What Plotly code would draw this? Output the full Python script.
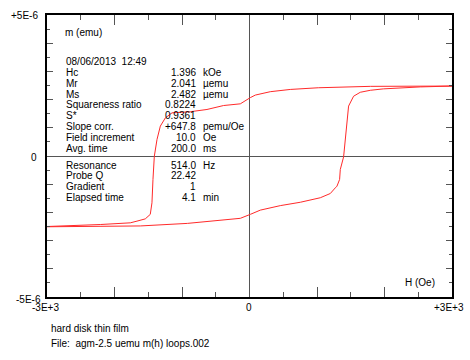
import plotly.graph_objects as go

# Descending branch (H from +3000 to -3000), m in emu (x1e-6)
h_desc = [3000, 2500, 1790, 1019, 604, 308, 86, 12, -136, -384, -630, -877, -1148,
          -1247, -1321, -1370, -1410, -1430, -1445, -1470, -1544, -1667, -1766, -2210, -3000]
m_desc = [2.48, 2.47, 2.47, 2.42, 2.36, 2.28, 2.16, 2.07, 1.85, 1.79, 1.65, 1.57, 1.53,
          1.35, 1.06, 0.59, -0.01, -0.83, -1.66, -2.07, -2.23, -2.31, -2.37, -2.43, -2.50]

# Ascending branch (H from -3000 to +3000)
h_asc = [-3000, -2210, -1618, -921, -240, -136, 12, 160, 456, 753, 1049, 1197, 1271, 1296,
         1335, 1345, 1394, 1434, 1468, 1542, 1641, 1790, 1982, 2530, 3000]
m_asc = [-2.51, -2.50, -2.48, -2.39, -2.24, -2.21, -2.07, -1.92, -1.76, -1.64, -1.48, -1.33,
         -1.13, -1.07, -0.83, -0.48, -0.03, 0.94, 1.77, 2.12, 2.26, 2.33, 2.38, 2.45, 2.48]

info_top_labels = ["Hc", "Mr", "Ms", "Squareness ratio", "S*", "Slope corr.",
                   "Field increment", "Avg. time"]
info_top_values = ["1.396", "2.041", "2.482", "0.8224", "0.9361", "+647.8", "10.0", "200.0"]
info_top_units = ["kOe", "µemu", "µemu", "", "", "pemu/Oe", "Oe", "ms"]

info_bot_labels = ["Resonance", "Probe Q", "Gradient", "Elapsed time"]
info_bot_values = ["514.0", "22.42", "1", "4.1"]
info_bot_units = ["Hz", "", "", "min"]

date_text = "08/06/2013  12:49"
x_tick_text = ["-3E+3", "0", "+3E+3"]
y_tick_text = ["+5E-6", "0", "-5E-6"]

W, H = 470, 360
L, R, T, B = 47, 18, 15, 63
PW, PH = W - L - R, H - T - B


def px(xp):
    return (xp - L) / PW


def py(yp):
    return (H - B - yp) / PH


FONT = "Liberation Sans, Arial, sans-serif"
RED = "#ff2a2a"

fig = go.Figure()
fig.add_trace(go.Scatter(x=h_desc, y=[v * 1e-6 for v in m_desc], mode="lines",
                         line=dict(color=RED, width=1), showlegend=False))
fig.add_trace(go.Scatter(x=h_asc, y=[v * 1e-6 for v in m_asc], mode="lines",
                         line=dict(color=RED, width=1), showlegend=False))

ann = []


def txt(x, y, s, anchor="left", size=10):
    ann.append(dict(xref="paper", yref="paper", x=px(x), y=py(y), text=s,
                    showarrow=False, xanchor=anchor, yanchor="middle",
                    font=dict(family=FONT, size=size, color="black")))


txt(63, 33, "m (emu)")
txt(403, 282, "H (Oe)")
txt(64, 61.5, date_text)
for i, (a, b, c) in enumerate(zip(info_top_labels, info_top_values, info_top_units)):
    y = 72.35 + i * 10.85
    txt(64, y, a)
    txt(198, y, b, "right")
    if c:
        txt(201, y, c)
for i, (a, b, c) in enumerate(zip(info_bot_labels, info_bot_values, info_bot_units)):
    y = 165 + i * 10.9
    txt(64, y, a)
    txt(198, y, b, "right")
    if c:
        txt(201, y, c)

txt(49, 328, "hard disk thin film")
txt(49, 343, "File:  agm-2.5 uemu m(h) loops.002")

# axis end labels
txt(45, 308, x_tick_text[0], "center")
txt(249, 308, x_tick_text[1], "center")
txt(449, 308, x_tick_text[2], "center")
txt(40, 15, y_tick_text[0], "right")
txt(39, 157, y_tick_text[1], "right")
txt(43, 299, y_tick_text[2], "right")

fig.update_layout(
    width=W, height=H, margin=dict(l=L, r=R, t=T, b=B),
    paper_bgcolor="white", plot_bgcolor="white",
    annotations=ann,
    xaxis=dict(range=[-3000, 3000], showgrid=False, zeroline=True, zerolinecolor="#555",
               zerolinewidth=1, showline=True, linecolor="black", linewidth=1.5,
               mirror="allticks", ticks="inside", ticklen=10, tickcolor="#555",
               tick0=0, dtick=1000, showticklabels=False,
               minor=dict(dtick=500, tick0=0, ticks="inside", ticklen=5, tickcolor="#555")),
    yaxis=dict(range=[-5e-6, 5e-6], showgrid=False, zeroline=True, zerolinecolor="#555",
               zerolinewidth=1, showline=True, linecolor="black", linewidth=1.5,
               mirror="allticks", ticks="inside", ticklen=6, tickcolor="#555",
               tick0=0, dtick=1e-6, showticklabels=False,
               minor=dict(dtick=0.5e-6, tick0=0, ticks="inside", ticklen=3, tickcolor="#555")),
)

fig.write_html("out.html", config={"displayModeBar": False},
               post_script="document.body.style.margin='0';document.body.style.overflow='hidden';")
